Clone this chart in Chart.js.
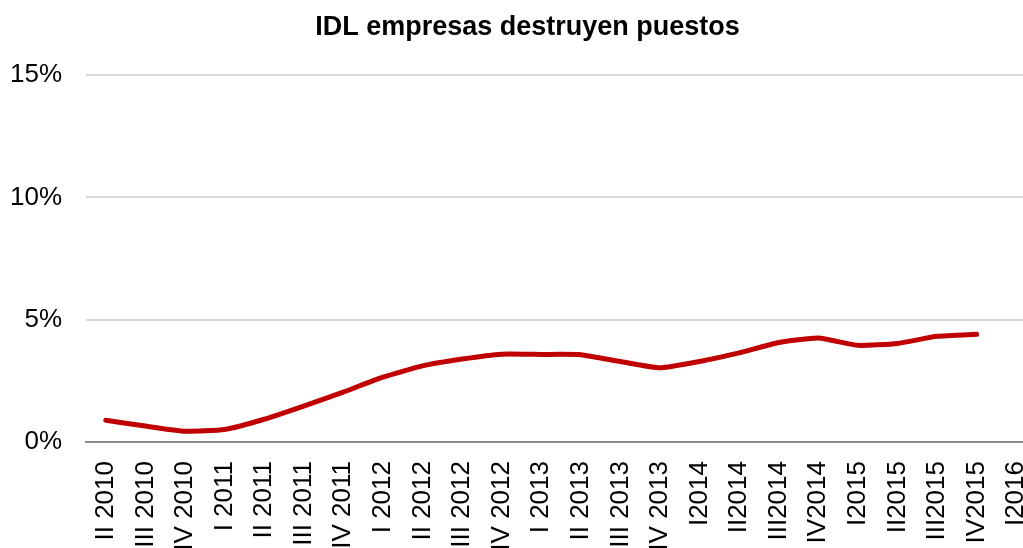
<!DOCTYPE html>
<html lang="es">
<head>
<meta charset="utf-8">
<title>IDL empresas destruyen puestos</title>
<script src="https://cdn.jsdelivr.net/npm/chart.js@4/dist/chart.umd.min.js"></script>
<style>
    html, body { margin: 0; padding: 0; background: #fff; overflow: hidden; }
    #idlChart { display: block; }
</style>
</head>
<body>
<canvas id="idlChart" width="1055" height="548"></canvas>
<script>
// Trimestres del eje X
const trimestres = [
    'II 2010', 'III 2010', 'IV 2010', 'I 2011', 'II 2011', 'III 2011', 'IV 2011',
    'I 2012', 'II 2012', 'III 2012', 'IV 2012', 'I 2013', 'II 2013', 'III 2013',
    'IV 2013', 'I2014', 'II2014', 'III2014', 'IV2014', 'I2015', 'II2015',
    'III2015', 'IV2015', 'I2016'
];

// Porcentaje de empresas que destruyen puestos (I2016 sin dato)
const destruyenPuestos = [
    0.89, 0.65, 0.44, 0.51, 0.93, 1.47, 2.04, 2.65, 3.11, 3.39, 3.59, 3.58,
    3.57, 3.29, 3.03, 3.29, 3.64, 4.07, 4.25, 3.95, 4.03, 4.32, 4.40, null
];

// Marcas del eje Y
const marcasY = [0, 5, 10, 15];

document.addEventListener('DOMContentLoaded', function() {
    const fuente = "'Liberation Sans', Arial, sans-serif";
    const ctx = document.getElementById('idlChart').getContext('2d');

    new Chart(ctx, {
        type: 'line',
        data: {
            labels: trimestres,
            datasets: [{
                label: 'IDL empresas destruyen puestos',
                data: destruyenPuestos,
                borderColor: '#c00000',
                borderWidth: 5,
                borderCapStyle: 'round',
                borderJoinStyle: 'round',
                pointRadius: 0,
                tension: 0.15,
                fill: false
            }]
        },
        options: {
            responsive: false,
            animation: false,
            layout: { padding: 0 },
            plugins: {
                legend: { display: false },
                tooltip: { enabled: false },
                title: {
                    display: true,
                    text: 'IDL empresas destruyen puestos',
                    color: '#000',
                    font: { family: fuente, size: 27, weight: 'bold' },
                    padding: { top: 11, bottom: 31.6 }
                }
            },
            scales: {
                x: {
                    offset: true,
                    grid: { display: false, drawTicks: false },
                    border: { display: true, color: '#8c8c8c', width: 2 },
                    ticks: {
                        autoSkip: false,
                        minRotation: 90,
                        maxRotation: 90,
                        padding: 19,
                        color: '#000',
                        font: { family: fuente, size: 26 }
                    },
                    afterFit: function(scale) {
                        // el área del gráfico termina en x = 1036
                        scale.height = 106;
                        scale.paddingLeft = 0;
                        scale.paddingRight = 19;
                    }
                },
                y: {
                    min: 0,
                    max: 15,
                    afterBuildTicks: function(scale) {
                        scale.ticks = marcasY.map(v => ({ value: v }));
                    },
                    grid: { color: '#d9d9d9', lineWidth: 2, drawTicks: false },
                    border: { display: false },
                    ticks: {
                        padding: 24,
                        color: '#000',
                        font: { family: fuente, size: 26 },
                        callback: v => v + '%'
                    },
                    afterFit: function(scale) { scale.width = 86; }
                }
            }
        }
    });
});
</script>
</body>
</html>
